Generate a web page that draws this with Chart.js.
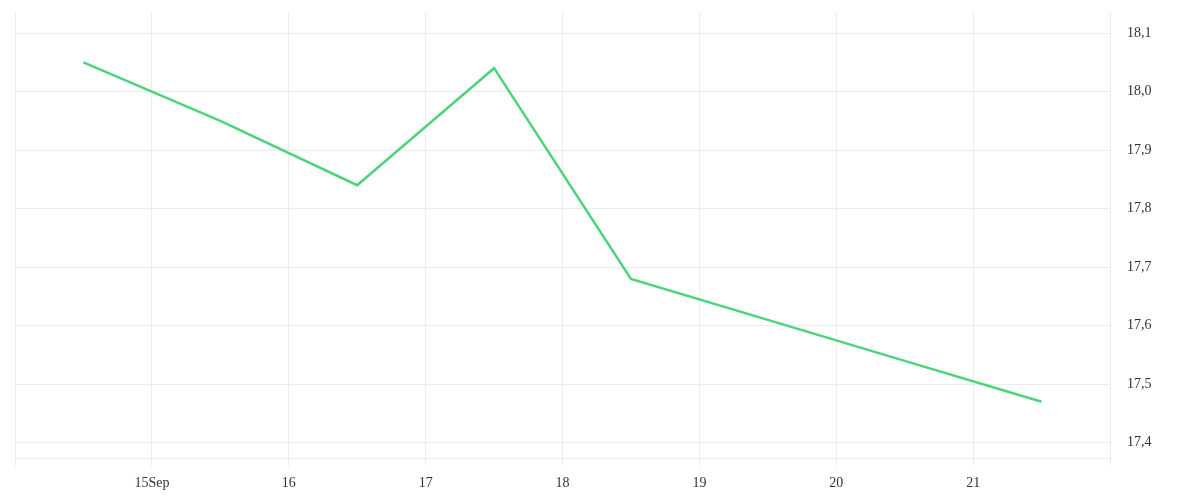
<!DOCTYPE html>
<html>
<head>
<meta charset="utf-8">
<script src="https://cdn.jsdelivr.net/npm/chart.js@4/dist/chart.umd.min.js"></script>
<style>
    html, body { margin: 0; padding: 0; background: #fff; }
    #wrap { width: 1200px; height: 500px; }
</style>
</head>
<body>
<div id="wrap"><canvas id="priceChart"></canvas></div>
<script>
// midday of each day in September
const dayValues = [14.5, 15.5, 16.5, 17.5, 18.5, 19.5, 20.5, 21.5];
const prices = [18.05, 17.95, 17.84, 18.04, 17.68, 17.61, 17.54, 17.47];
// x tick labels for days 14..22
const tickLabels = ['', '15Sep', '16', '17', '18', '19', '20', '21', ''];

const gridColor = '#ececec';

document.addEventListener('DOMContentLoaded', function() {
    const ctx = document.getElementById('priceChart');

    new Chart(ctx.getContext('2d'), {
        type: 'line',
        data: {
            datasets: [{
                data: dayValues.map((d, i) => ({ x: d, y: prices[i] })),
                borderColor: '#4cd47c',
                borderWidth: 2.5,
                pointRadius: 0,
                tension: 0,
                fill: false
            }]
        },
        options: {
            responsive: true,
            maintainAspectRatio: false,
            animation: false,
            layout: {
                padding: { left: 15, top: 12, right: 0, bottom: 0 }
            },
            plugins: {
                legend: { display: false },
                tooltip: { enabled: false }
            },
            scales: {
                x: {
                    type: 'linear',
                    min: 14,
                    max: 22,
                    afterFit: function(scale) {
                        scale.height = 42;
                        scale.paddingLeft = 0;
                        scale.paddingRight = 0;
                    },
                    grid: {
                        color: gridColor,
                        tickLength: 8
                    },
                    border: { color: gridColor },
                    ticks: {
                        stepSize: 1,
                        padding: 9,
                        maxRotation: 0,
                        autoSkip: false,
                        color: '#333',
                        font: { family: 'Liberation Serif', size: 14 },
                        callback: function(value) {
                            return tickLabels[Math.round(value - 14)] || '';
                        }
                    }
                },
                y: {
                    position: 'right',
                    min: 17.374,
                    max: 18.136,
                    afterFit: function(scale) {
                        scale.width = 90;
                        scale.paddingTop = 0;
                        scale.paddingBottom = 0;
                    },
                    grid: {
                        color: gridColor,
                        drawTicks: false
                    },
                    border: { color: gridColor },
                    ticks: {
                        stepSize: 0.1,
                        includeBounds: false,
                        padding: 17,
                        color: '#333',
                        font: { family: 'Liberation Serif', size: 14 },
                        callback: function(value) {
                            return value.toFixed(1).replace('.', ',');
                        }
                    }
                }
            }
        }
    });
});
</script>
</body>
</html>
